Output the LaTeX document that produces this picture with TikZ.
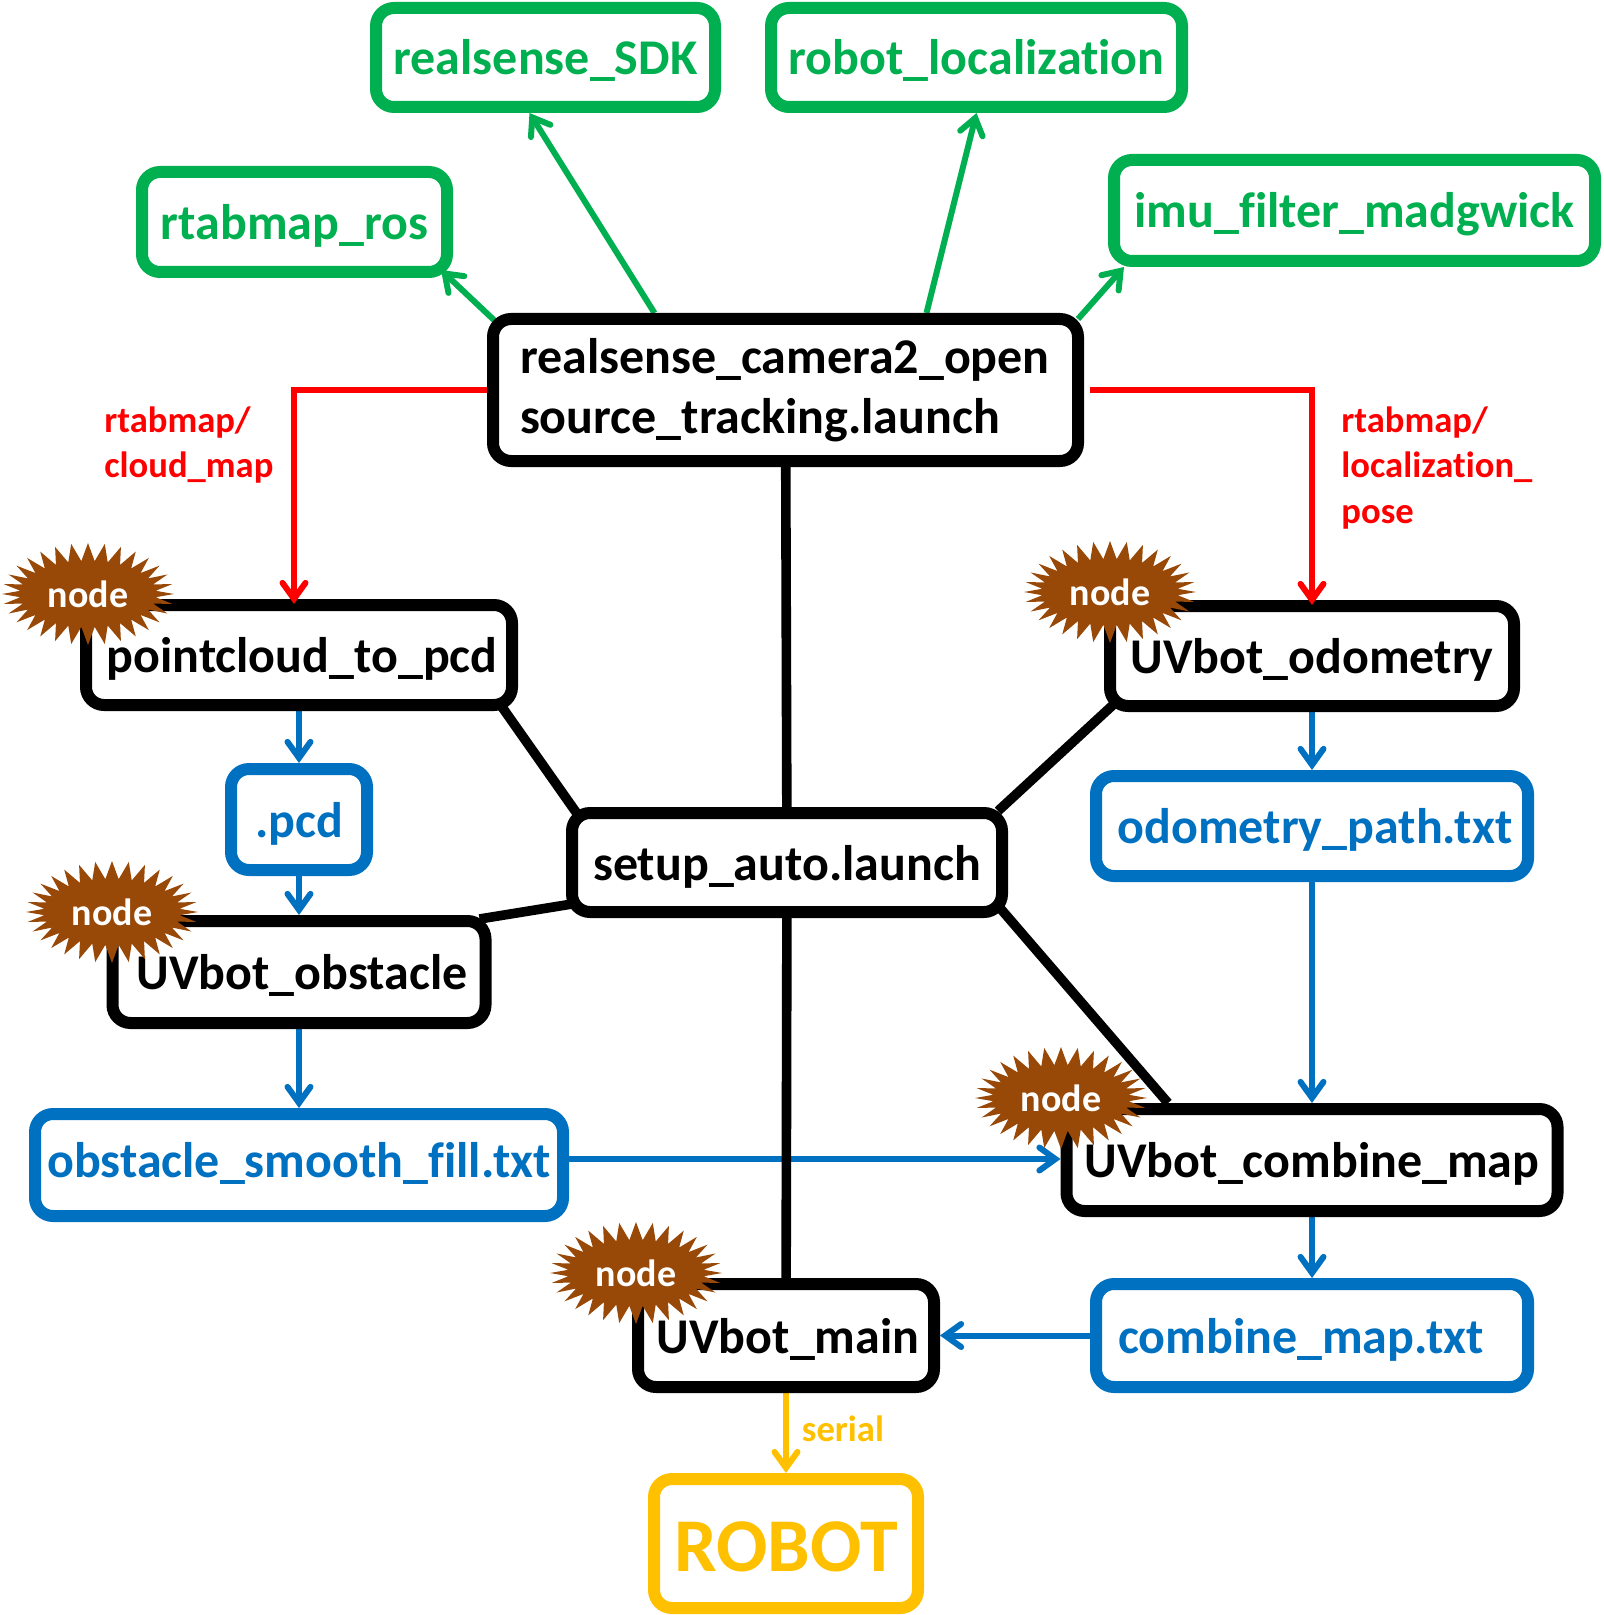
\documentclass[tikz,border=0pt]{standalone}
\usepackage{fontspec}
\setmainfont{Carlito}[Ligatures=NoCommon]
\usetikzlibrary{positioning,arrows.meta,shapes.symbols,backgrounds}
\definecolor{pkg}{RGB}{0,176,80}
\definecolor{fil}{RGB}{0,112,192}
\definecolor{rob}{RGB}{255,192,0}
\definecolor{brs}{RGB}{152,72,7}
\begin{document}
\begin{tikzpicture}[x=0.5pt,y=-0.5pt,font=\fontsize{25}{30}\selectfont\bfseries,
  >={Straight Barb[length=8pt,width=11.5pt,line cap=round]},
  boxs/.style={draw,line width=6pt,rounded corners=9pt,fill=white,inner sep=0pt,minimum height=50pt,align=center},
  ones/.style={boxs,text height=20pt,text depth=2.5pt},
  pkgs/.style={ones,draw=pkg,text=pkg},
  nods/.style={ones,draw=black},
  fils/.style={ones,draw=fil,text=fil},
  robs/.style={boxs,draw=rob,text=rob,text height=28pt,text depth=0pt},
  brst/.style={starburst,starburst points=32,starburst point height=9pt,random starburst=0,fill=brs,text=white,
    inner sep=0pt,minimum width=86pt,minimum height=51pt,font=\fontsize{19}{20}\selectfont\bfseries},
  lbls/.style={align=left,anchor=north west,inner sep=0pt,font=\fontsize{18.3}{22.8}\selectfont\bfseries},
  grnl/.style={->,pkg,line width=3pt},
  redl/.style={->,red,line width=3pt},
  blul/.style={->,fil,line width=3pt},
  blkl/.style={black,line width=4.8pt}]
  \useasboundingbox (0,0) rectangle (1604,1615);
  \node[pkgs,minimum width=169.5pt,minimum height=49.5pt] (sdk) at (545.5,57.5) {realsense\_SDK};
  \node[pkgs,minimum width=205.5pt,minimum height=49.5pt,right=22pt of sdk] (loc) {robot\_localization};
  \node[pkgs,minimum width=152.5pt] (rtab) at (294.5,222) {rtabmap\_ros};
  \node[pkgs,minimum width=240.5pt,minimum height=50.5pt] (imu) at (1354.5,210.5) {imu\_filter\_madgwick};
  \node[boxs,minimum height=71pt,minimum width=292.5pt,text width=265.5pt,align=left] (cam) at (785.5,390) {realsense\_camera2\_open\\source\_tracking.launch};
  \node[nods,minimum width=213pt] (pc) at (299,655) {\hspace*{3pt}pointcloud\_to\_pcd};
  \node[fils,minimum width=68pt,minimum height=50.5pt,below=26pt of pc] (pcd) {.pcd};
  \node[nods,minimum width=186.5pt,minimum height=51pt,below=19.5pt of pcd] (obs) {\hspace*{3pt}UVbot\_obstacle};
  \node[fils,minimum width=264pt,minimum height=51pt,text depth=7.5pt,below=39.5pt of obs] (smth) {obstacle\_smooth\_fill.txt};
  \node[nods,minimum width=215pt,minimum height=49.5pt] (setup) at (787,862.5) {setup\_auto.launch};
  \node[nods,minimum width=202pt] (odo) at (1312,656) {UVbot\_odometry};
  \node[fils,minimum width=216pt,below=29pt of odo] (path) {\hspace*{3pt}odometry\_path.txt};
  \node[nods,minimum width=245.5pt,minimum height=51pt,below=110.5pt of path] (comb) {UVbot\_combine\_map};
  \node[fils,minimum width=216pt,minimum height=51.5pt,text width=194pt,align=left,below=30.5pt of comb] (map) {combine\_map.txt};
  \node[nods,minimum width=148pt,minimum height=51.5pt,left=75pt of map] (main) {\hspace*{2pt}UVbot\_main};
  \node[robs,minimum width=132pt,minimum height=64.5pt,below=40pt of main,font=\fontsize{38}{40}\selectfont\bfseries] (robot) {ROBOT};
  \node[brst] (b1) at (88,594) {node};
  \node[brst] (b2) at (112,912) {node};
  \node[brst] (b3) at (1110,592) {node};
  \node[brst] (b4) at (1061,1098) {node};
  \node[brst] (b5) at (636,1273) {node};
  \node[lbls,text=red] (lcl) at (104,406) {rtabmap/\\cloud\_map};
  \node[lbls,text=red] (lcr) at (1341,406) {rtabmap/\\localization\_\\pose};
  \node[lbls,text=rob,anchor=center] (ser) at (843,1429) {serial};
  \begin{scope}[on background layer]
    \draw[blul] (pc)--(pcd); \draw[blul] (pcd)--(obs); \draw[blul] (obs)--(smth);
    \draw[blul] (odo)--(path); \draw[blul] (path)--(comb); \draw[blul] (comb)--(map);
    \draw[blul] (map)--(main);
    \draw[blul] ([yshift=3pt]smth.east)--([yshift=.5pt]comb.west);
    \draw[->,rob,line width=3pt] (main)--(robot);
    \draw[blkl] (cam)--(setup); \draw[blkl] (setup)--(main);
    \draw[blkl] ([xshift=-8pt,yshift=2pt]pc.south east)--([xshift=6pt,yshift=-4pt]setup.north west);
    \draw[blkl] ([xshift=5pt,yshift=4pt]odo.south west)--([xshift=-5pt,yshift=-2pt]setup.north east);
    \draw[blkl] ([xshift=-6pt,yshift=-2pt]obs.north east)--([xshift=3pt,yshift=7pt]setup.south west);
    \draw[blkl] ([xshift=-4pt,yshift=5pt]setup.south east)--([xshift=-72pt]comb.north);
    \draw[grnl] ([xshift=4pt,yshift=-4pt]cam.north west)--([xshift=-6pt,yshift=4pt]rtab.south east);
    \draw[grnl] ([xshift=-65.5pt]cam.north)--([xshift=-8pt]sdk.south);
    \draw[grnl] ([xshift=70.5pt]cam.north)--(loc.south);
    \draw[grnl] ([xshift=-3pt,yshift=-3pt]cam.north east)--([xshift=8pt]imu.south west);
  \end{scope}
  \draw[redl,shorten >=-2.5pt] (cam.west) -| ([xshift=-2.5pt]pc.north);
  \draw[redl,shorten <=3pt,shorten >=-2.5pt] (cam.east) -| (odo.north);
\end{tikzpicture}
\end{document}
